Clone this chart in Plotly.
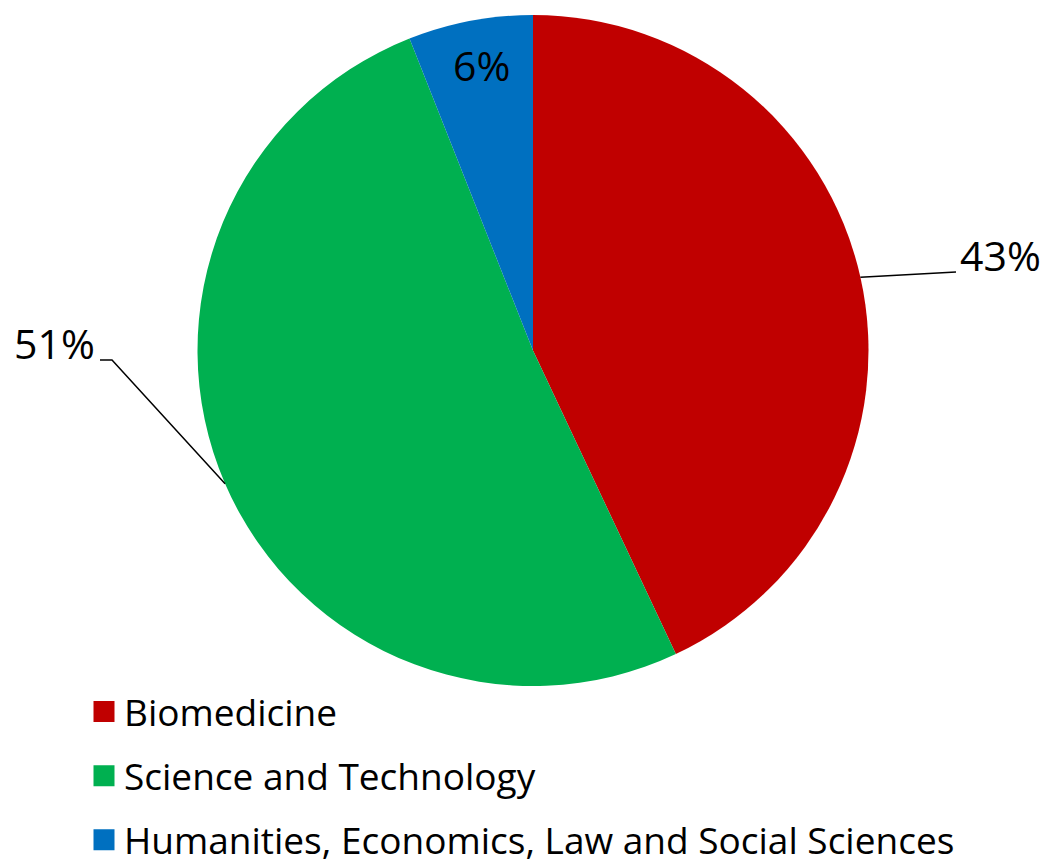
import math
import plotly.graph_objects as go

# ---- data ----
categories = ["Biomedicine", "Science and Technology",
              "Humanities, Economics, Law and Social Sciences"]
shares = [43, 51, 6]
label_texts = ["43%", "51%", "6%"]
colors = ["#C00000", "#00B050", "#0070C0"]

# ---- layout constants (pixels) ----
W, H = 1049, 860
PIE_LEFT, PIE_RIGHT, PIE_TOP, PIE_BOTTOM = 197, 869, 15, 686
FONT = "Open Sans"

cx = (PIE_LEFT + PIE_RIGHT) / 2
cy = (PIE_TOP + PIE_BOTTOM) / 2
R = min(PIE_RIGHT - PIE_LEFT, PIE_BOTTOM - PIE_TOP) / 2


def px(x):
    return x / W


def py(y):
    return 1 - y / H


# label placement style per slice: (kind, leader points after edge, text x, text y, xanchor)
label_style = [
    ("outside", [(956, 272)], 958, 255, "left"),
    ("outside", [(112, 360), (100, 360)], 97, 343, "right"),
    ("inside", None, None, None, "center"),
]

fig = go.Figure()
fig.add_trace(go.Pie(
    labels=categories,
    values=shares,
    marker=dict(colors=colors),
    sort=False,
    direction="clockwise",
    rotation=0,
    textinfo="none",
    hoverinfo="label+percent",
    showlegend=False,
    domain=dict(x=[px(PIE_LEFT), px(PIE_RIGHT)], y=[py(PIE_BOTTOM), py(PIE_TOP)]),
))

# legend entries via dummy traces (larger square swatches)
for cat, col in zip(categories, colors):
    fig.add_trace(go.Scatter(
        x=[None], y=[None], mode="markers", name=cat, legendgroup=cat,
        marker=dict(symbol="square", size=16, color=col, line=dict(color=col, width=6)),
        hoverinfo="skip",
    ))

total = sum(shares)
annotations = []
shapes = []
cum = 0
for val, txt, style in zip(shares, label_texts, label_style):
    mid = (cum + val / 2) / total * 2 * math.pi
    cum += val
    kind, pts, tx, ty, xa = style
    if kind == "outside":
        ex = cx + R * math.sin(mid)
        ey = cy - R * math.cos(mid)
        path = "M {} {}".format(px(ex), py(ey))
        for (lx, ly) in pts:
            path += " L {} {}".format(px(lx), py(ly))
        shapes.append(dict(type="path", xref="paper", yref="paper", path=path,
                           line=dict(color="black", width=1.5)))
        annotations.append(dict(x=px(tx), y=py(ty), xref="paper", yref="paper",
                                text=txt, showarrow=False, xanchor=xa, yanchor="middle",
                                font=dict(family=FONT, size=41, color="black")))
    else:
        r = 0.865 * R
        lx = cx + r * math.sin(mid) + 3
        ly = cy - r * math.cos(mid)
        annotations.append(dict(x=px(lx), y=py(ly), xref="paper", yref="paper",
                                text=txt, showarrow=False, xanchor="center", yanchor="middle",
                                font=dict(family=FONT, size=41, color="black")))

fig.update_layout(
    width=W, height=H,
    margin=dict(l=0, r=0, t=0, b=0, autoexpand=False),
    paper_bgcolor="white", plot_bgcolor="white",
    xaxis=dict(visible=False), yaxis=dict(visible=False),
    showlegend=True,
    legend=dict(x=px(84), y=py(681), xanchor="left", yanchor="top",
                font=dict(family=FONT, size=37, color="black"),
                tracegroupgap=13, bgcolor="rgba(0,0,0,0)"),
    annotations=annotations,
    shapes=shapes,
)

fig.write_html("out.html", config={"displayModeBar": False},
               post_script="document.body.style.margin='0';")
